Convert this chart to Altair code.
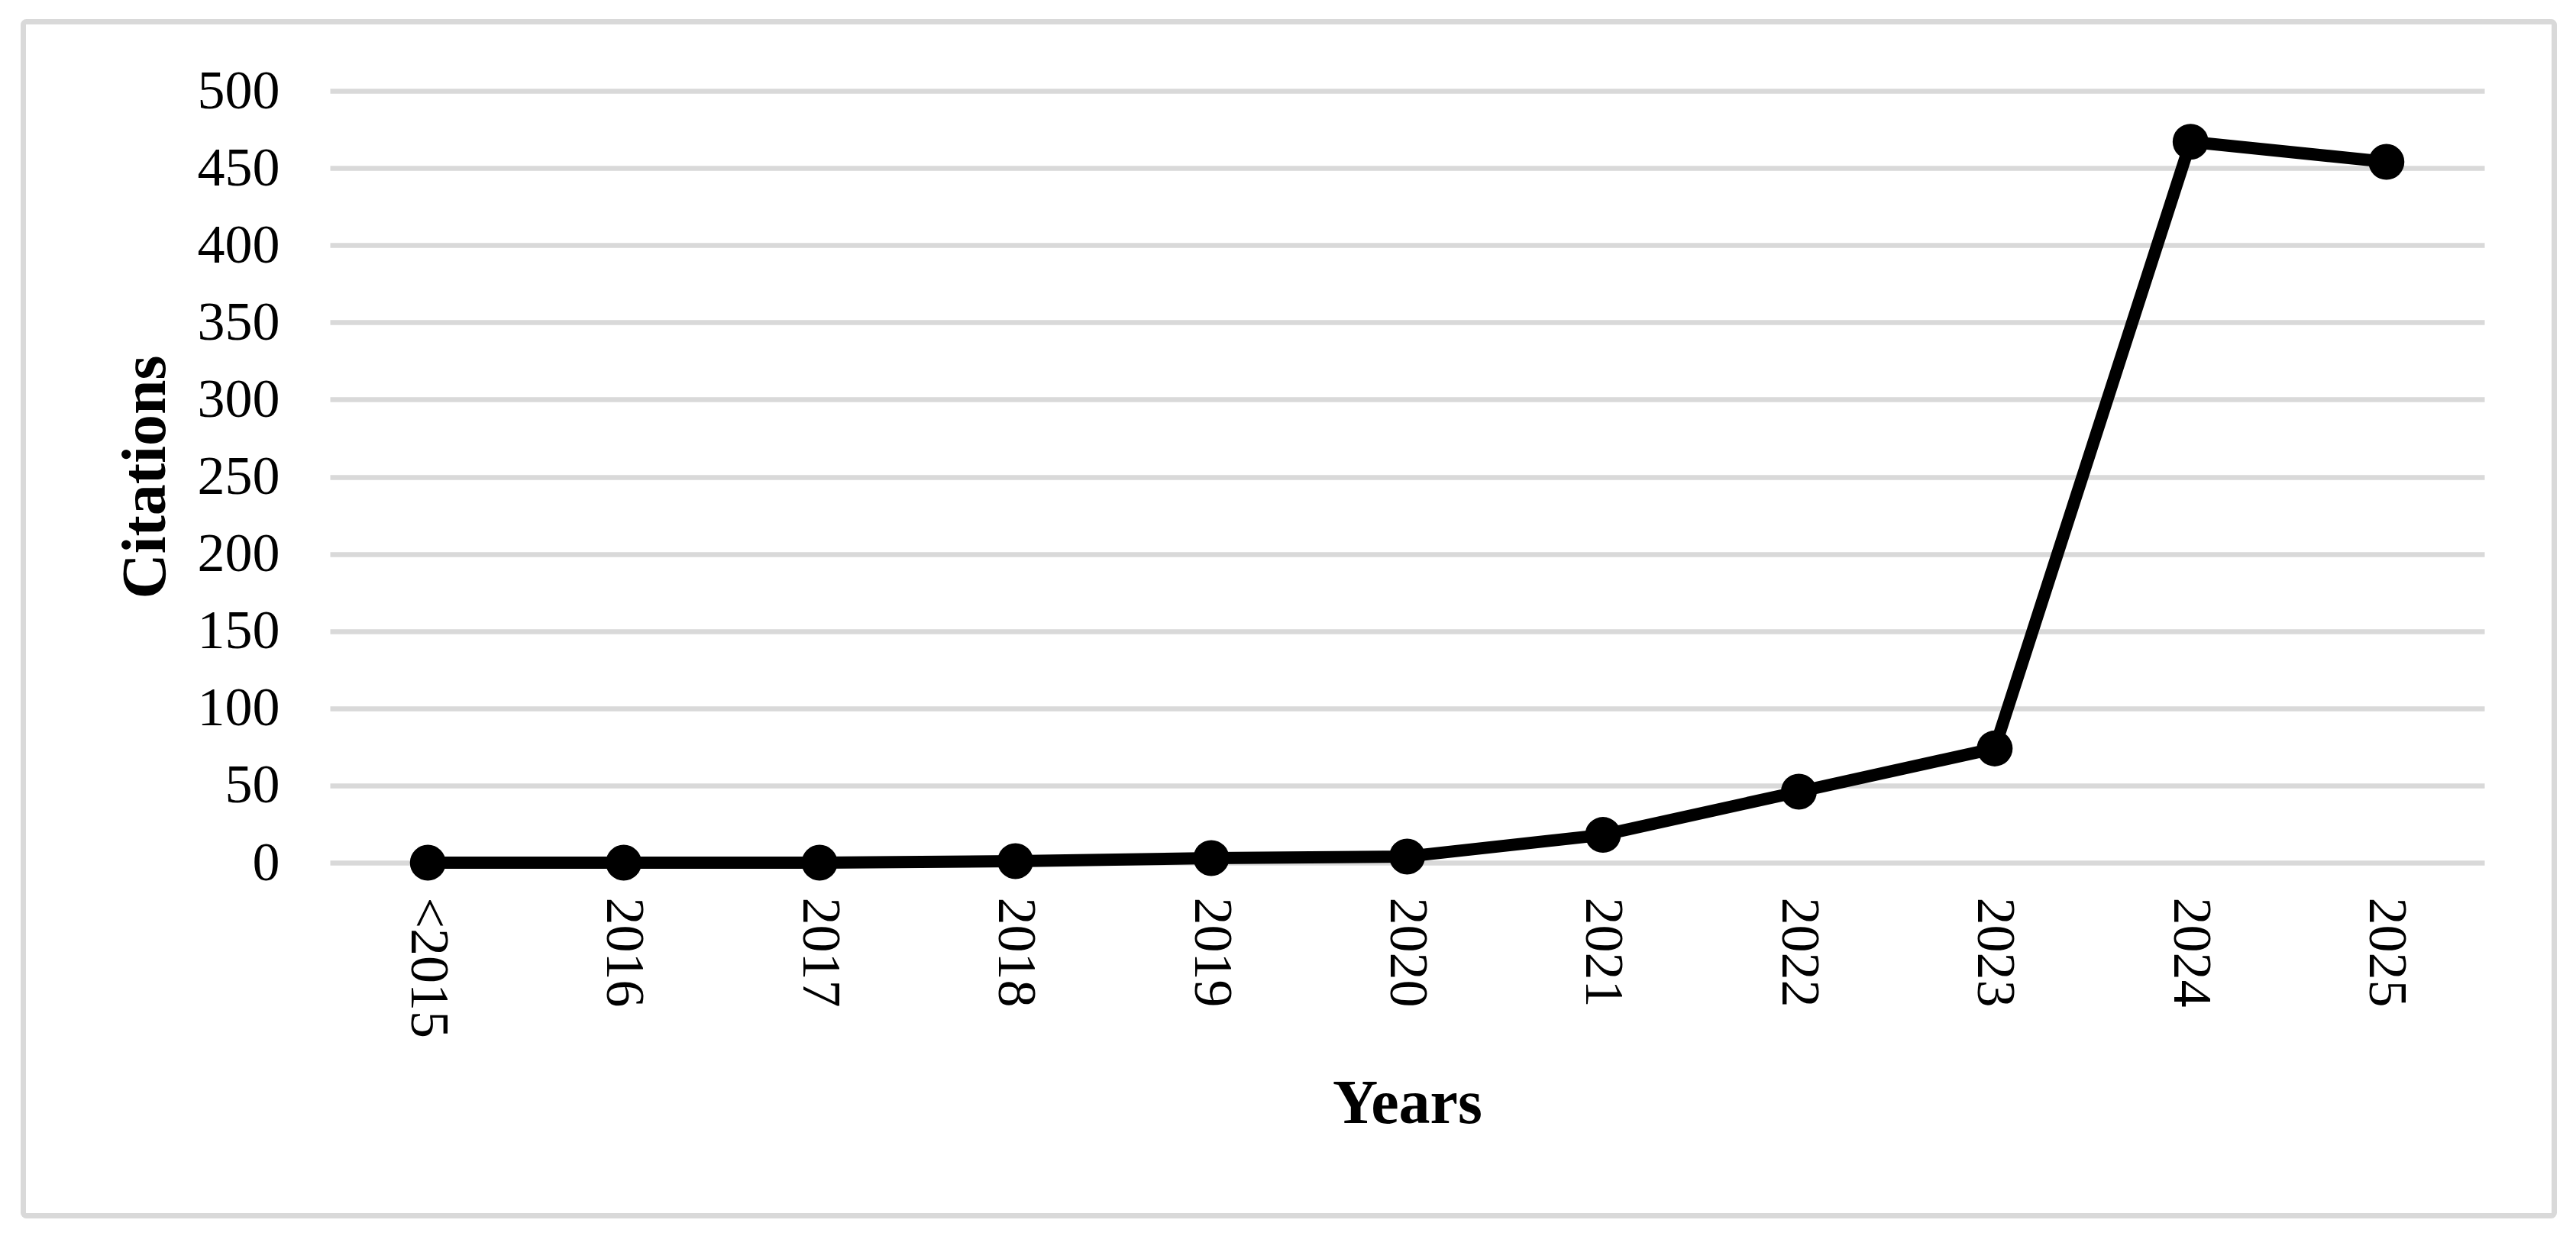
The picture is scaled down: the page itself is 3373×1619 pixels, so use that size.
import altair as alt
import pandas as pd

years = ["<2015", "2016", "2017", "2018", "2019", "2020", "2021", "2022", "2023", "2024", "2025"]
citations = [0, 0, 0, 1, 3, 4, 18, 46, 74, 467, 454]
y_ticks = [0, 50, 100, 150, 200, 250, 300, 350, 400, 450, 500]

df = pd.DataFrame({"Years": years, "Citations": citations})

FONT = "Liberation Serif"
W, H = 2821, 1011

x_enc = alt.X(
    "Years:N",
    sort=years,
    scale=alt.Scale(type="point", padding=0.5),
    axis=alt.Axis(
        title="Years",
        labelAngle=90,
        labelAlign="left",
        labelBaseline="middle",
        labelFont=FONT,
        labelFontSize=72,
        labelColor="black",
        labelPadding=45,
        labelLimit=0,
        labelOverlap=False,
        ticks=False,
        tickSize=0,
        domain=False,
        grid=False,
        titleFont=FONT,
        titleFontSize=82,
        titleFontWeight="bold",
        titleColor="black",
        titleX=W / 2,
        titleY=340,
        titleAlign="center",
        titleBaseline="alphabetic",
    ),
)
y_enc = alt.Y(
    "Citations:Q",
    scale=alt.Scale(domain=[0, 500], nice=False),
    axis=alt.Axis(
        title="Citations",
        values=y_ticks,
        labelFont=FONT,
        labelFontSize=72,
        labelColor="black",
        labelPadding=66,
        ticks=False,
        tickSize=0,
        domain=False,
        grid=True,
        gridColor="#d9d9d9",
        gridWidth=6.5,
        titleFont=FONT,
        titleFontSize=82,
        titleFontWeight="bold",
        titleColor="black",
        titleAngle=-90,
        titleX=-217,
        titleY=H / 2,
        titleAlign="center",
        titleBaseline="alphabetic",
    ),
)

border = alt.Chart(pd.DataFrame({"a": [0]})).mark_rect(
    fillOpacity=0, stroke="#d9d9d9", strokeWidth=7, cornerRadius=4
).encode(
    x=alt.value(-401.5), x2=alt.value(2912.5), y=alt.value(-90.5), y2=alt.value(1473.5)
)

line = alt.Chart(df).mark_line(color="black", strokeWidth=16, strokeJoin="round").encode(x=x_enc, y=y_enc)
points = alt.Chart(df).mark_point(filled=True, color="black", opacity=1, size=2209, shape="circle").encode(
    x=x_enc, y=y_enc
)

chart = (
    alt.layer(border, line, points)
    .properties(
        width=W,
        height=H,
        background="white",
        autosize=alt.AutoSizeParams(type="none"),
        padding={"left": 424, "top": 111, "right": 110, "bottom": 475},
    )
    .configure_view(stroke="transparent", strokeWidth=0)
)

chart.save("out.html", embed_options={"renderer": "svg", "actions": False})
